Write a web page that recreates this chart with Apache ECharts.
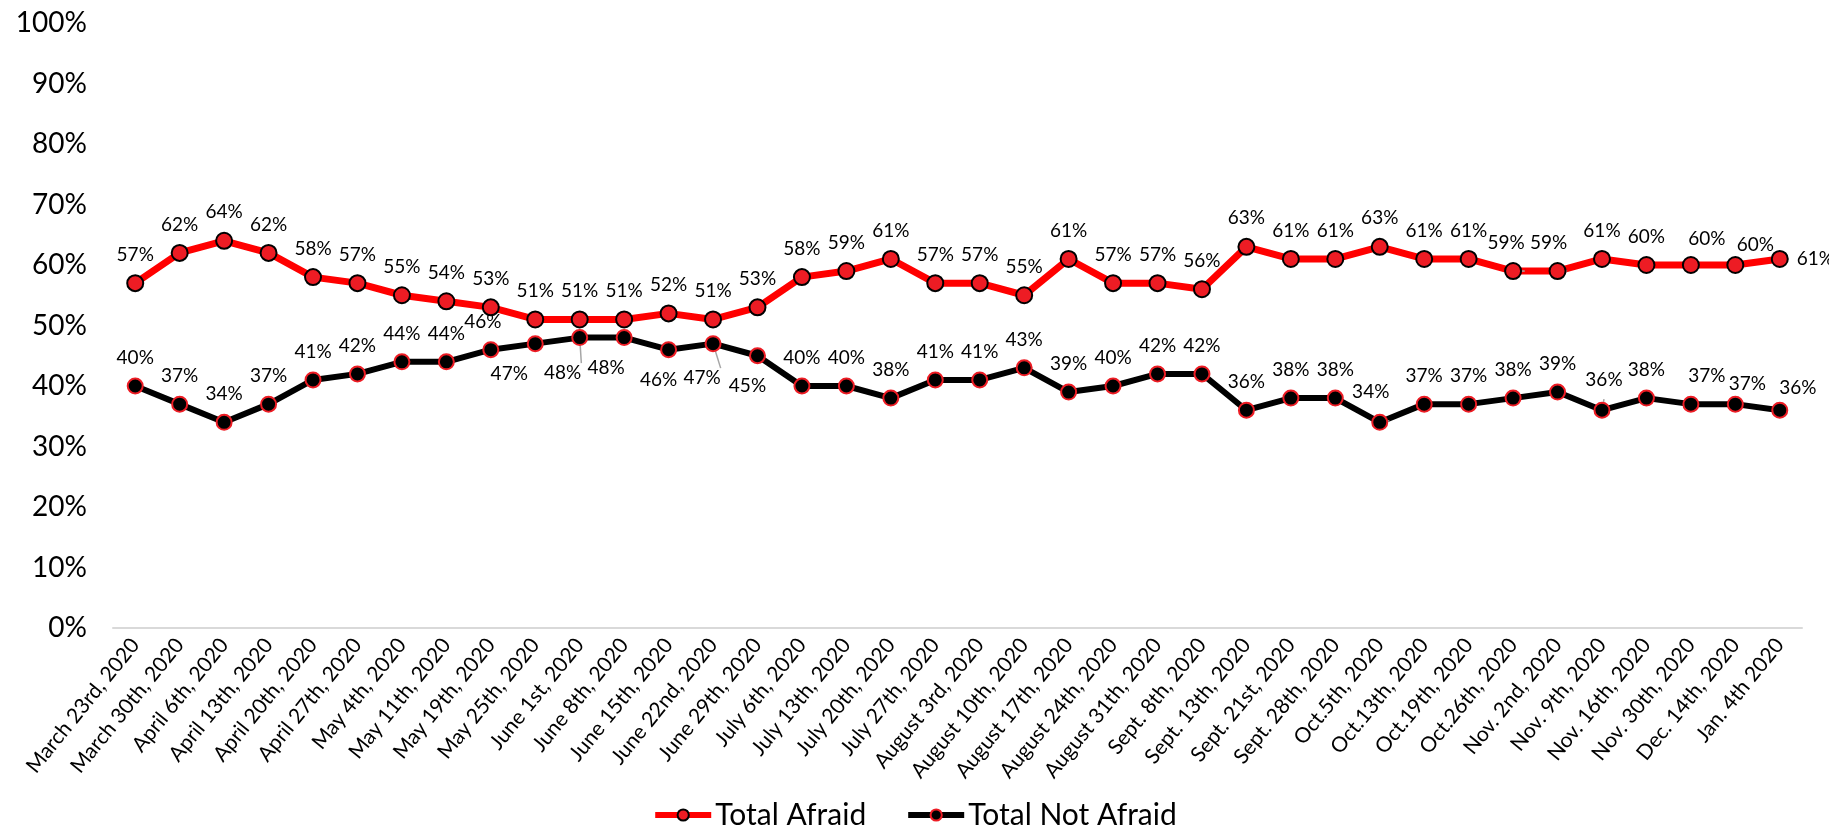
<!DOCTYPE html>
<html>
<head>
<meta charset="utf-8">
<title>Total Afraid vs Total Not Afraid</title>
<script src="https://cdn.jsdelivr.net/npm/echarts@6/dist/echarts.min.js"></script>
<style>
  html, body { margin: 0; padding: 0; background: #fff; }
  #chart { width: 1829px; height: 835px; }
</style>
</head>
<body>
<div id="chart"></div>
<script>
// Survey dates (x axis)
const categories = [
  'March 23rd, 2020', 'March 30th, 2020', 'April 6th, 2020', 'April 13th, 2020',
  'April 20th, 2020', 'April 27th, 2020', 'May 4th, 2020', 'May 11th, 2020',
  'May 19th, 2020', 'May 25th, 2020', 'June 1st, 2020', 'June 8th, 2020',
  'June 15th, 2020', 'June 22nd, 2020', 'June 29th, 2020', 'July 6th, 2020',
  'July 13th, 2020', 'July 20th, 2020', 'July 27th, 2020', 'August 3rd, 2020',
  'August 10th, 2020', 'August 17th, 2020', 'August 24th, 2020', 'August 31th, 2020',
  'Sept. 8th, 2020', 'Sept. 13th, 2020', 'Sept. 21st, 2020', 'Sept. 28th, 2020',
  'Oct.5th, 2020', 'Oct.13th, 2020', 'Oct.19th, 2020', 'Oct.26th, 2020',
  'Nov. 2nd, 2020', 'Nov. 9th, 2020', 'Nov. 16th, 2020', 'Nov. 30th, 2020',
  'Dec. 14th, 2020', 'Jan. 4th 2020'
];

// Percent of respondents
const totalAfraid = [
  57, 62, 64, 62, 58, 57, 55, 54, 53, 51, 51, 51, 52, 51, 53, 58, 59, 61, 57,
  57, 55, 61, 57, 57, 56, 63, 61, 61, 63, 61, 61, 59, 59, 61, 60, 60, 60, 61
];
const totalNotAfraid = [
  40, 37, 34, 37, 41, 42, 44, 44, 46, 47, 48, 48, 46, 47, 45, 40, 40, 38, 41,
  41, 43, 39, 40, 42, 42, 36, 38, 38, 34, 37, 37, 38, 39, 36, 38, 37, 37, 36
];

const FONT = 'Lato, "Open Sans", sans-serif';
const RED = '#ff0000';
const MARK_RED = '#ed1c24';
const LEADER = { show: true, lineStyle: { color: '#a6a6a6', width: 1.5 } };

// Hand-placed label nudges: [dx, dy] and whether a leader line is drawn
const afraidNudge = {
  31: { offset: [-7, 0], leader: true },
  32: { offset: [-9, 0], leader: true },
  35: { offset: [16, 2] },
  36: { offset: [20, 8] }
};
const notAfraidNudge = {
  8: { offset: [-8, 0] },
  28: { offset: [-9, -2], leader: true },
  33: { offset: [2, -2], leader: true },
  35: { offset: [16, 0] },
  36: { offset: [12, 8] },
  37: { offset: [18, 6] }
};
// Not-afraid labels placed under their points
const notAfraidBelow = {
  9: { offset: [-26, 0] },
  10: { offset: [-17, 5], leader: true },
  11: { offset: [-18, 0] },
  12: { offset: [-10, 0] },
  13: { offset: [-11, 4], leader: true },
  14: { offset: [-10, 0] }
};

const afraidData = totalAfraid.map((v, i) => {
  const item = { value: v };
  const n = afraidNudge[i];
  if (i === categories.length - 1) {
    item.label = { position: 'right', distance: 8 };
  } else if (n) {
    item.label = { offset: n.offset };
    if (n.leader) item.labelLine = LEADER;
  }
  return item;
});

const notAfraidData = totalNotAfraid.map((v, i) => {
  const item = { value: v };
  const b = notAfraidBelow[i];
  const n = notAfraidNudge[i];
  if (b) {
    item.label = { position: 'bottom', distance: 12, offset: b.offset };
    if (b.leader) item.labelLine = LEADER;
  } else if (n) {
    item.label = { offset: n.offset };
    if (n.leader) item.labelLine = LEADER;
  }
  return item;
});

const chart = echarts.init(document.getElementById('chart'), null, { renderer: 'canvas' });

chart.setOption({
  animation: false,
  backgroundColor: '#ffffff',
  textStyle: { fontFamily: FONT },
  grid: { left: 113, right: 27, top: 23, bottom: 207, containLabel: false },
  legend: {
    bottom: 0,
    left: 'center',
    itemWidth: 56,
    itemHeight: 14,
    itemGap: 39,
    lineStyle: { width: 6 },
    textStyle: { fontSize: 30, color: '#000', fontFamily: FONT, padding: [0, 0, 0, -1] },
    data: ['Total Afraid', 'Total Not Afraid']
  },
  xAxis: {
    type: 'category',
    data: categories,
    boundaryGap: true,
    axisLine: { show: true, lineStyle: { color: '#d9d9d9', width: 2 } },
    axisTick: { show: false },
    axisLabel: {
      interval: 0,
      rotate: 51,
      fontSize: 21,
      color: '#000',
      margin: 13,
      fontFamily: FONT
    },
    splitLine: { show: false }
  },
  yAxis: {
    type: 'value',
    min: 0,
    max: 100,
    interval: 10,
    axisLine: { show: false },
    axisTick: { show: false },
    splitLine: { show: false },
    axisLabel: {
      formatter: '{value}%',
      fontSize: 28,
      color: '#000',
      margin: 26,
      fontFamily: FONT
    }
  },
  series: [
    {
      name: 'Total Afraid',
      type: 'line',
      data: afraidData,
      symbol: 'circle',
      symbolSize: 16,
      lineStyle: { color: RED, width: 7 },
      itemStyle: { color: MARK_RED, borderColor: '#000', borderWidth: 2 },
      label: {
        show: true,
        position: 'top',
        distance: 10,
        formatter: '{c}%',
        fontSize: 19,
        color: '#000',
        fontFamily: FONT
      },
      z: 3
    },
    {
      name: 'Total Not Afraid',
      type: 'line',
      data: notAfraidData,
      symbol: 'circle',
      symbolSize: 15,
      lineStyle: { color: '#000', width: 6 },
      itemStyle: { color: '#000', borderColor: MARK_RED, borderWidth: 2 },
      label: {
        show: true,
        position: 'top',
        distance: 10,
        formatter: '{c}%',
        fontSize: 19,
        color: '#000',
        fontFamily: FONT
      },
      z: 2
    }
  ]
});
</script>
</body>
</html>
